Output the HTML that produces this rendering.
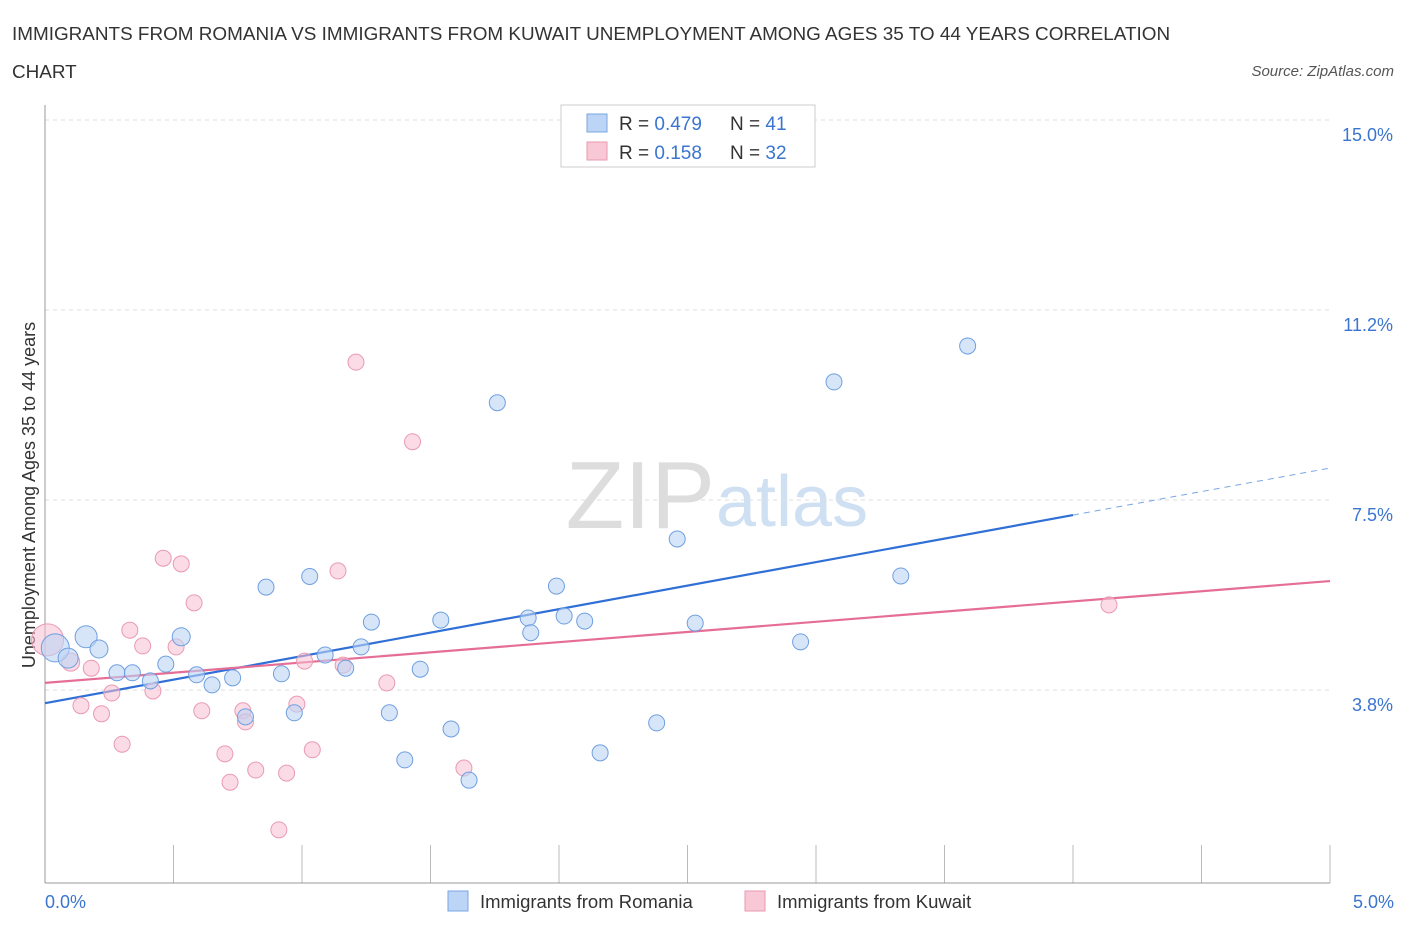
<!DOCTYPE html>
<html><head><meta charset="utf-8"><style>
body{margin:0;background:#fff;font-family:"Liberation Sans",sans-serif;}
svg text{font-family:"Liberation Sans",sans-serif;}
</style></head><body>
<svg width="1406" height="930">
<text x="12" y="40" font-size="18.9" fill="#333">IMMIGRANTS FROM ROMANIA VS IMMIGRANTS FROM KUWAIT UNEMPLOYMENT AMONG AGES 35 TO 44 YEARS CORRELATION</text>
<text x="12" y="78" font-size="18.9" fill="#333">CHART</text>
<text x="1394" y="76" font-size="15" fill="#555" font-style="italic" text-anchor="end">Source: ZipAtlas.com</text>
<text x="715" y="528" font-size="96" fill="#ddd" font-family="Liberation Serif" text-anchor="end">ZIP</text>
<text x="716" y="526" font-size="72" fill="#cfe0f3">atlas</text>
<g id="grid"></g>
<g id="ticks"></g>
<line x1="45" y1="105" x2="45" y2="883" stroke="#999"/>
<line x1="45" y1="883" x2="1330" y2="883" stroke="#999"/>
<text x="35" y="495" font-size="18" fill="#333" text-anchor="middle" transform="rotate(-90 35 495)">Unemployment Among Ages 35 to 44 years</text>
<text x="45" y="908" font-size="18" fill="#3a75d0">0.0%</text>
<text x="1394" y="908" font-size="18" fill="#3a75d0" text-anchor="end">5.0%</text>
<g id="lines"></g>
<g id="pts"></g>
<g>
<rect x="561" y="105" width="254" height="62" fill="#fff" stroke="#ccc"/>
<rect x="587" y="114" width="20" height="18" fill="#bcd4f5" stroke="#7aa6e3"/>
<text x="619" y="130" font-size="19" fill="#333">R = <tspan fill="#3a75d0">0.479</tspan></text>
<text x="730" y="130" font-size="19" fill="#333">N = <tspan fill="#3a75d0">41</tspan></text>
<rect x="587" y="142" width="20" height="18" fill="#f8c8d6" stroke="#e99ab2"/>
<text x="619" y="159" font-size="19" fill="#333">R = <tspan fill="#3a75d0"> 0.158</tspan></text>
<text x="730" y="159" font-size="19" fill="#333">N = <tspan fill="#3a75d0">32</tspan></text>
</g>
<g>
<rect x="448" y="891" width="20" height="20" fill="#bcd4f5" stroke="#7aa6e3"/>
<text x="480" y="908" font-size="18.5" fill="#333">Immigrants from Romania</text>
<rect x="745" y="891" width="20" height="20" fill="#f8c8d6" stroke="#e99ab2"/>
<text x="777" y="908" font-size="18.5" fill="#333">Immigrants from Kuwait</text>
</g>
</svg>
<script>
const yTicks=[3.8,7.5,11.2,15.0];
const yTickVals=[3.75,7.5,11.25,15];
const xTicks=[0,0.5,1,1.5,2,2.5,3,3.5,4,4.5,5];
const romaniaX=[0.04,0.09,0.16,0.21,0.28,0.34,0.41,0.47,0.53,0.59,0.65,0.73,0.78,0.86,0.92,0.97,1.03,1.09,1.17,1.23,1.27,1.34,1.40,1.46,1.54,1.58,1.65,1.76,1.88,1.89,1.99,2.02,2.10,2.16,2.38,2.46,2.53,2.94,3.07,3.33,3.59];
const romaniaY=[4.58,4.38,4.80,4.56,4.09,4.09,3.93,4.26,4.80,4.05,3.85,3.99,3.22,5.78,4.07,3.30,5.99,4.44,4.18,4.60,5.09,3.30,2.37,4.16,5.13,2.98,1.97,9.42,5.17,4.88,5.80,5.21,5.11,2.51,3.10,6.73,5.07,4.70,9.83,6.00,10.54];
const romaniaR=[14,10,11,9,8,8,8,8,9,8,8,8,8,8,8,8,8,8,8,8,8,8,8,8,8,8,8,8,8,8,8,8,8,8,8,8,8,8,8,8,8];
const kuwaitX=[0.01,0.10,0.14,0.18,0.22,0.26,0.30,0.33,0.38,0.42,0.46,0.51,0.53,0.58,0.61,0.70,0.72,0.77,0.78,0.82,0.91,0.94,0.98,1.01,1.04,1.14,1.16,1.21,1.33,1.43,1.63,4.14];
const kuwaitY=[4.74,4.30,3.44,4.18,3.28,3.69,2.68,4.93,4.62,3.73,6.35,4.60,6.24,5.47,3.34,2.49,1.93,3.34,3.12,2.17,0.99,2.11,3.47,4.32,2.57,6.10,4.24,10.22,3.89,8.65,2.21,5.43];
const kuwaitR=[16,9,8,8,8,8,8,8,8,8,8,8,8,8,8,8,8,8,8,8,8,8,8,8,8,8,8,8,8,8,8,8];
const blueTrend=[3.49,8.13];
const pinkTrend=[3.89,5.90];
const ns="http://www.w3.org/2000/svg";
const X=v=>45+v*257, Y=v=>880-v*50.67;
function mk(t,p,a){const e=document.createElementNS(ns,t);for(const k in a)e.setAttribute(k,a[k]);p.appendChild(e);return e;}
const grid=document.getElementById('grid');
yTickVals.forEach((v,i)=>{
 const l=mk('line',grid,{x1:45,x2:1330,y1:Y(v),y2:Y(v),stroke:'#ddd','stroke-dasharray':'4,4'});
 
 
 const t=mk('text',grid,{x:1393,y:Y(v)+21,'font-size':18,fill:'#3a75d0','text-anchor':'end'});
 t.textContent=yTicks[i].toFixed(1)+'%';
 
 
});
const tk=document.getElementById('ticks');
xTicks.forEach(v=>{
 const l=mk('line',tk,{x1:X(v),x2:X(v),y1:845,y2:883,stroke:'#bbb'});
 
 
});
const ln=document.getElementById('lines');
const xs=4.0;
let b1=mk('line',ln,{x1:X(0),y1:Y(blueTrend[0]),x2:X(xs),y2:Y(blueTrend[0]+(blueTrend[1]-blueTrend[0])*xs/5),stroke:'#2f6fd6','stroke-width':2.2});


let b2=mk('line',ln,{x1:X(xs),y1:Y(blueTrend[0]+(blueTrend[1]-blueTrend[0])*xs/5),x2:X(5),y2:Y(blueTrend[1]),stroke:'#7aa6e3','stroke-width':1,'stroke-dasharray':'6,5'});


let p1=mk('line',ln,{x1:X(0),y1:Y(pinkTrend[0]),x2:X(5),y2:Y(pinkTrend[1]),stroke:'#e56d96','stroke-width':2.2});


const pts=document.getElementById('pts');
kuwaitX.forEach((v,i)=>{
 const c=mk('circle',pts,{cx:X(v),cy:Y(kuwaitY[i]),r:kuwaitR[i],fill:'rgba(248,190,208,0.55)',stroke:'#e99ab2','stroke-width':1});
 
 
});
romaniaX.forEach((v,i)=>{
 const c=mk('circle',pts,{cx:X(v),cy:Y(romaniaY[i]),r:romaniaR[i],fill:'rgba(188,212,245,0.6)',stroke:'#6f9fe0','stroke-width':1});
 
 
});
</script>
</body></html>
